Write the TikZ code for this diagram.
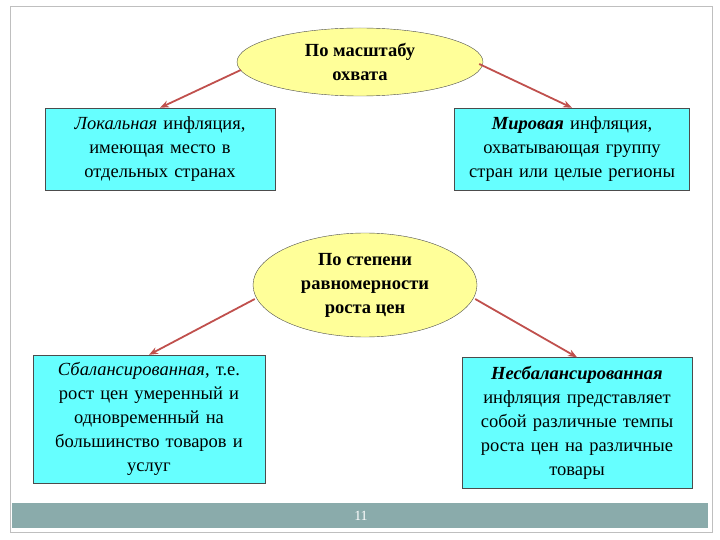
\documentclass[tikz,border=0pt]{standalone}
\usepackage{fontspec}
\setmainfont{Liberation Serif}
\usetikzlibrary{shapes.geometric,arrows.meta}
\definecolor{cy}{HTML}{66FFFF}
\definecolor{yl}{HTML}{FFFF99}
\definecolor{ar}{HTML}{C0504D}
\definecolor{bar}{HTML}{8AABAB}
\tikzset{
 ell/.style={ellipse,draw=black!70,fill=yl,inner sep=0pt,align=center,font=\fontsize{18.5}{24}\selectfont\bfseries},
 bx/.style={draw=black!70,fill=cy,inner sep=0pt,align=center,font=\fontsize{18.5}{24}\selectfont,text width=#1},
 arr/.style={draw=ar,line width=1.8pt,-{Stealth[length=9pt,width=7pt]}}
}
\begin{document}
\begin{tikzpicture}[x=1pt,y=-1pt]
\useasboundingbox (0,0) rectangle (720,540);
\draw[black!25] (10,6) rectangle (712,532);
\fill[bar] (12,503) rectangle (708,528);
\node[text=white,font=\fontsize{14}{16}\selectfont] (pg) at (361,516) {11};
\node[ell,minimum width=246pt,minimum height=68pt] (e1) at (360,62) {По масштабу\\охвата};
\node[bx=228pt,minimum width=230pt,minimum height=82pt] (b1) at (160,149) {\textit{Локальная} инфляция,\\имеющая место в\\отдельных странах};
\node[bx=233pt,minimum width=235pt,minimum height=82pt] (b2) at (572,149) {\textbf{\textit{Мировая}} инфляция,\\охватывающая группу\\стран или целые регионы};
\node[ell,minimum width=224pt,minimum height=104pt] (e2) at (365,285) {По степени\\равномерности\\роста цен};
\node[bx=230pt,minimum width=232pt,minimum height=128pt] (b3) at (149,419) {\textit{Сбалансированная}, т.е.\\рост цен умеренный и\\одновременный на\\большинство товаров и\\услуг};
\node[bx=228pt,minimum width=230pt,minimum height=131pt] (b4) at (577,423) {\textbf{\textit{Несбалансированная}}\\инфляция представляет\\собой различные темпы\\роста цен на различные\\товары};
\draw[arr] (e1.west) ++(4,8) -- (b1.north);
\draw[arr] (e1.east) ++(-4,2) -- (b2.north);
\draw[arr] (e2.west) ++(2,14) -- (b3.north);
\draw[arr] (e2.east) ++(-2,14) -- (b4.north);
\end{tikzpicture}
\end{document}
